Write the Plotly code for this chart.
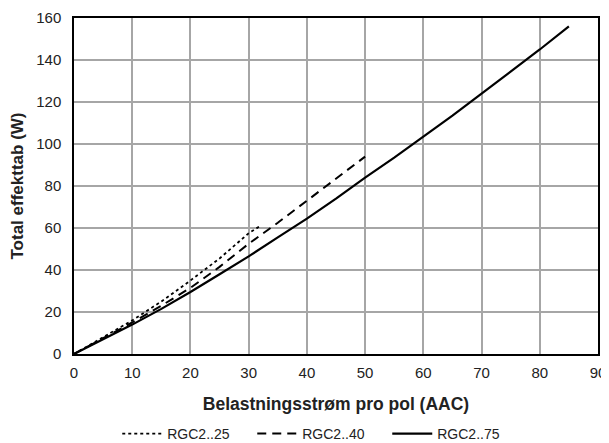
import plotly.graph_objects as go

x_25 = [0, 5, 10, 15, 20, 25, 30, 32]
y_25 = [0, 7.8, 16, 25, 35, 45.5, 57.5, 61]

x_40 = [0, 5, 10, 15, 20, 25, 30, 35, 40, 45, 50]
y_40 = [0, 7.3, 15, 23, 31.5, 41.5, 52.5, 62.5, 73, 83.5, 94]

x_75 = [0, 5, 10, 15, 20, 25, 30, 35, 40, 45, 50, 55, 60, 65, 70, 75, 80, 85]
y_75 = [0, 7, 14, 21.5, 29.5, 38, 46.5, 55.5, 64.5, 74, 84, 93.5, 103.5, 113.5, 124, 134.5, 145, 156]

names = ["RGC2..25", "RGC2..40", "RGC2..75"]

fig = go.Figure()
fig.add_trace(go.Scatter(x=x_25, y=y_25, mode="lines", name=names[0],
                         line=dict(color="black", width=1.8, dash="dot")))
fig.add_trace(go.Scatter(x=x_40, y=y_40, mode="lines", name=names[1],
                         line=dict(color="black", width=2, dash="9px,6px")))
fig.add_trace(go.Scatter(x=x_75, y=y_75, mode="lines", name=names[2],
                         line=dict(color="black", width=2.2, dash="solid")))

font = "Liberation Sans, Arial, sans-serif"
fig.update_layout(
    width=601, height=435,
    margin=dict(l=66, r=11, t=10, b=89, autoexpand=False),
    paper_bgcolor="white", plot_bgcolor="white",
    font=dict(family=font, size=15, color="#222"),
    showlegend=True,
    legend=dict(orientation="h", x=0.469, xanchor="center", y=-0.238, yanchor="middle",
                font=dict(size=14, color="#222"), itemwidth=40, tracegroupgap=0,
                entrywidth=80, entrywidthmode="pixels"),
    xaxis=dict(range=[0, 90], dtick=10, showgrid=True, gridcolor="#a6a6a6", gridwidth=1.5,
               showline=True, linecolor="black", linewidth=1.5, mirror=True,
               ticks="outside", ticklen=4, tickcolor="rgba(0,0,0,0)",
               zeroline=False, automargin=False,
               tickfont=dict(size=15, color="#222"),
               title=dict(text="<b>Belastningsstrøm pro pol (AAC)</b>", font=dict(size=17.5, color="#222"), standoff=18)),
    yaxis=dict(range=[0, 160], dtick=20, showgrid=True, gridcolor="#a6a6a6", gridwidth=1.5,
               showline=True, linecolor="black", linewidth=1.5, mirror=True,
               ticks="outside", ticklen=8, tickcolor="rgba(0,0,0,0)",
               zeroline=False, automargin=False,
               tickfont=dict(size=15, color="#222"),
               title=dict(text="<b>Total effekttab (W)</b>", font=dict(size=17, color="#222"), standoff=9)),
)

fig.write_html("out.html")
